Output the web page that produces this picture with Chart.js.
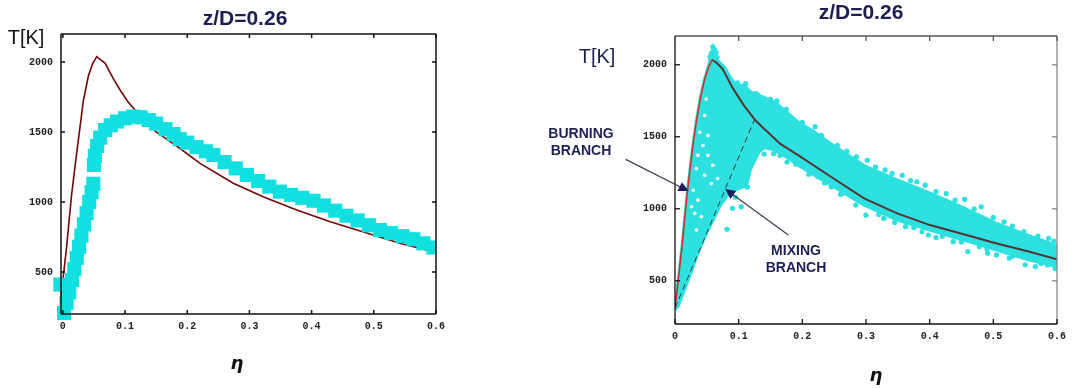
<!DOCTYPE html>
<html>
<head>
<meta charset="utf-8">
<script src="https://cdn.jsdelivr.net/npm/chart.js@4.4.1/dist/chart.umd.min.js"></script>
<style>
  body { margin: 0; background: #fff; }
  #wrap { position: relative; width: 1072px; height: 388px; overflow: hidden; }
  canvas { position: absolute; top: 0; }
  .t { position: absolute; transform: translate(-50%, -50%); white-space: nowrap; font-family: 'Liberation Sans', Arial, sans-serif; line-height: 1; }
  .title { font-weight: bold; font-size: 21px; color: #1e1e50; }
  .unit { font-size: 20px; }
  .eta { font-family: 'DejaVu Sans', sans-serif; font-weight: bold; font-style: italic; font-size: 18px; color: #111; }
  .note { font-weight: bold; font-size: 14px; color: #1c1f55; text-align: center; line-height: 16.5px; }
</style>
</head>
<body>
<div id="wrap">
  <canvas id="left" width="470" height="388" style="left:0"></canvas>
  <canvas id="right" width="602" height="388" style="left:470px"></canvas>
  <div class="t title" style="left:245px; top:17px">z/D=0.26</div>
  <div class="t title" style="left:861px; top:11px">z/D=0.26</div>
  <div class="t unit" style="left:26px; top:37px; color:#111">T[K]</div>
  <div class="t unit" style="left:597px; top:56px; color:#1c2050">T[K]</div>
  <div class="t eta" style="left:237px; top:363px">η</div>
  <div class="t eta" style="left:876px; top:375px">η</div>
  <div class="t note" style="left:581px; top:141px">BURNING<br>BRANCH</div>
  <div class="t note" style="left:796px; top:258px">MIXING<br>BRANCH</div>
</div>
<script>
// axis ticks
const xTicks = [0, 0.1, 0.2, 0.3, 0.4, 0.5, 0.6];
const yTicks = [500, 1000, 1500, 2000];

// left panel: computed band (squares) and flamelet curve, [eta, T]
const leftBand = [
  [-0.005, 200], [-0.005, 270], [-0.005, 340], [-0.004, 410],
  [0.002, 207], [0.006, 280], [0.0103, 355], [0.0148, 443], [0.0185, 520],
  [0.0223, 600], [0.0261, 680], [0.0298, 760], [0.034, 840], [0.0381, 920],
  [0.0423, 1000], [0.0462, 1070], [0.049, 1130],
  [0.05, 1265], [0.0515, 1330], [0.055, 1400], [0.06, 1460], [0.068, 1514],
  [0.077, 1548], [0.087, 1575], [0.1, 1598], [0.113, 1610], [0.125, 1605],
  [0.138, 1585], [0.15, 1560], [0.165, 1520], [0.178, 1485], [0.188, 1449],
  [0.2, 1424], [0.215, 1392], [0.23, 1362], [0.242, 1336], [0.26, 1285],
  [0.278, 1240], [0.296, 1193], [0.314, 1150], [0.332, 1110], [0.349, 1074],
  [0.367, 1050], [0.385, 1030], [0.403, 1009], [0.42, 975], [0.438, 938],
  [0.456, 902], [0.474, 868], [0.492, 834], [0.51, 800], [0.528, 778],
  [0.546, 756], [0.5635, 734], [0.58, 705], [0.596, 675]
];
const leftCurve = [
  [-0.003, 320], [0.006, 680], [0.014, 1050], [0.02, 1270], [0.027, 1515],
  [0.033, 1725], [0.041, 1900], [0.048, 1990], [0.0545, 2038], [0.068, 1991],
  [0.08, 1890], [0.092, 1800], [0.104, 1720], [0.116, 1657], [0.13, 1590],
  [0.15, 1500], [0.17, 1440], [0.188, 1384], [0.2206, 1276], [0.274, 1134],
  [0.322, 1038], [0.376, 943], [0.43, 859], [0.499, 764], [0.542, 705], [0.6, 640]
];

// right panel: scatter cloud outline, loose points, holes, branches
const cloudTop = [
  [0, 300], [0.006, 540], [0.0115, 760], [0.018, 1060], [0.024, 1290],
  [0.029, 1470], [0.034, 1625], [0.04, 1775], [0.046, 1895], [0.052, 1985],
  [0.056, 2050], [0.0594, 2110], [0.062, 2060], [0.067, 2030], [0.0775, 1985],
  [0.088, 1905], [0.0957, 1860], [0.1085, 1858], [0.119, 1810], [0.1395, 1775],
  [0.16, 1730], [0.181, 1650], [0.194, 1600], [0.217, 1540], [0.2455, 1450],
  [0.297, 1300], [0.349, 1200], [0.4, 1110], [0.452, 1010], [0.504, 900],
  [0.555, 815], [0.6, 745]
];
const cloudBottom = [
  [0, 300], [0.005, 323], [0.021, 507], [0.036, 692], [0.052, 853],
  [0.07, 1014], [0.085, 1110], [0.1, 1140], [0.112, 1160], [0.119, 1279],
  [0.132, 1394], [0.14, 1425], [0.155, 1410], [0.175, 1360], [0.194, 1300],
  [0.22, 1230], [0.2455, 1164], [0.297, 1026], [0.349, 922], [0.4, 853],
  [0.452, 784], [0.504, 715], [0.555, 645], [0.6, 599]
];
const cloudDots = [
  [0.0594, 2125], [0.062, 2105], [0.057, 2080], [0.0646, 2085], [0.055, 2055], [0.066, 2050],
  [0.098, 1875], [0.111, 1870], [0.127, 1800], [0.16, 1750], [0.22, 1570], [0.27, 1400],
  [0.302, 1337], [0.341, 1245], [0.357, 1233], [0.38, 1187], [0.393, 1164], [0.426, 1106],
  [0.455, 1065], [0.481, 1014], [0.517, 910], [0.548, 841], [0.587, 795],
  [0.13, 1790], [0.15, 1760], [0.175, 1690], [0.2, 1600], [0.23, 1510], [0.255, 1440],
  [0.285, 1360], [0.315, 1290], [0.33, 1270], [0.37, 1195], [0.41, 1120], [0.44, 1060],
  [0.47, 1000], [0.5, 940], [0.53, 880], [0.57, 810], [0.595, 775],
  [0.2145, 1256], [0.225, 1221], [0.2455, 1152], [0.265, 1110], [0.284, 1026], [0.3, 956],
  [0.328, 933], [0.362, 876], [0.388, 841], [0.398, 818], [0.41, 800], [0.437, 772],
  [0.46, 703], [0.478, 737], [0.491, 692], [0.505, 680], [0.525, 657], [0.55, 611],
  [0.566, 599], [0.585, 610],
  [0.21, 1240], [0.235, 1180], [0.26, 1100], [0.32, 960], [0.345, 905], [0.375, 870],
  [0.42, 810], [0.45, 770], [0.49, 720], [0.53, 670], [0.575, 620], [0.597, 585],
  [0.14, 1380], [0.155, 1383], [0.165, 1370], [0.176, 1325], [0.19, 1310],
  [0.0817, 858], [0.0904, 1003], [0.095, 1080], [0.104, 1014], [0.1137, 1152]
];
const cloudHoles = [
  [0.049, 1763], [0.0465, 1648], [0.0388, 1532], [0.0517, 1509], [0.044, 1440],
  [0.036, 1371], [0.0517, 1371], [0.0594, 1302], [0.0336, 1279], [0.0465, 1233],
  [0.067, 1210], [0.057, 1175], [0.0284, 1129], [0.036, 1060], [0.0259, 1014],
  [0.031, 968], [0.0414, 945], [0.0336, 853]
];
const burningBranch = [
  [0, 310], [0.006, 540], [0.0115, 760], [0.018, 1060], [0.024, 1290],
  [0.029, 1470], [0.034, 1620], [0.04, 1770], [0.046, 1890], [0.052, 1975], [0.058, 2035]
];
const flameletDecline = [
  [0.058, 2035], [0.065, 2015], [0.075, 1970], [0.09, 1843], [0.1085, 1717],
  [0.1266, 1613], [0.14, 1556], [0.165, 1452], [0.194, 1371], [0.2455, 1221],
  [0.297, 1072], [0.349, 968], [0.4005, 887], [0.452, 825], [0.504, 761],
  [0.5555, 703], [0.6, 650]
];
const mixingBranch = [[0, 310], [0.125, 1620]];

// annotation arrows [from, to] in data units
const burningArrow = [[-0.0775, 1343], [0.0186, 1129]];
const mixingArrow = [[0.178, 818], [0.0814, 1129]];

const pts = a => a.map(p => ({x: p[0], y: p[1]}));
const tickFont = {family: "'Liberation Mono', monospace", size: 10, weight: 'bold'};

const frame = {
  id: 'frame',
  afterDatasetsDraw(chart, args, o) {
    const {ctx, chartArea: a} = chart;
    const sx = chart.scales.x, sy = chart.scales.y;
    ctx.save();
    ctx.lineWidth = o.width;
    const seg = (c, x1, y1, x2, y2) => {
      ctx.strokeStyle = c;
      ctx.beginPath(); ctx.moveTo(x1, y1); ctx.lineTo(x2, y2); ctx.stroke();
    };
    seg(o.top, a.left, a.top, a.right, a.top);
    seg(o.right, a.right, a.top, a.right, a.bottom);
    seg(o.bottom, a.left, a.bottom, a.right, a.bottom);
    seg(o.left, a.left, a.top, a.left, a.bottom);
    xTicks.forEach(v => {
      const px = sx.getPixelForValue(v);
      seg(o.bottom, px, a.bottom, px, a.bottom - o.tick);
      seg(o.top, px, a.top, px, a.top + o.tick);
    });
    yTicks.forEach(v => {
      const py = sy.getPixelForValue(v);
      seg(o.left, a.left, py, a.left + o.tick, py);
      seg(o.right, a.right, py, a.right - o.tick, py);
    });
    ctx.restore();
  }
};

const arrows = {
  id: 'arrows',
  afterDraw(chart) {
    const {ctx} = chart;
    const sx = chart.scales.x, sy = chart.scales.y;
    [burningArrow, mixingArrow].forEach(([f, t]) => {
      const x1 = sx.getPixelForValue(f[0]), y1 = sy.getPixelForValue(f[1]);
      const x2 = sx.getPixelForValue(t[0]), y2 = sy.getPixelForValue(t[1]);
      const ang = Math.atan2(y2 - y1, x2 - x1);
      ctx.save();
      ctx.strokeStyle = '#3a3a48';
      ctx.lineWidth = 1.2;
      ctx.beginPath(); ctx.moveTo(x1, y1); ctx.lineTo(x2, y2); ctx.stroke();
      ctx.fillStyle = '#1a1d5c';
      ctx.translate(x2, y2);
      ctx.rotate(ang);
      ctx.beginPath(); ctx.moveTo(2, 0); ctx.lineTo(-8, -5); ctx.lineTo(-8, 5); ctx.closePath(); ctx.fill();
      ctx.restore();
    });
  }
};

function axes(xmin, yWidth, xHeight) {
  return {
    x: {
      type: 'linear', min: xmin, max: 0.6,
      afterBuildTicks: s => { s.ticks = xTicks.map(v => ({value: v})); },
      afterFit: s => { s.height = xHeight; },
      grid: {display: false, drawTicks: false},
      border: {display: false},
      ticks: {font: tickFont, color: '#222', padding: 6, autoSkip: false, maxRotation: 0,
        callback: v => String(v)}
    },
    y: {
      type: 'linear', min: 200, max: 2200,
      afterBuildTicks: s => { s.ticks = yTicks.map(v => ({value: v})); },
      afterFit: s => { s.width = yWidth; },
      grid: {display: false, drawTicks: false},
      border: {display: false},
      ticks: {font: tickFont, color: '#222', padding: 8, autoSkip: false,
        callback: v => String(v)}
    }
  };
}

new Chart(document.getElementById('left'), {
  type: 'line',
  data: {
    datasets: [
      {data: pts(leftBand), showLine: false, pointStyle: 'rect', pointRadius: 10,
        pointBackgroundColor: 'rgb(18,224,224)', pointBorderWidth: 0,
        clip: {left: 10, right: 0, top: 0, bottom: 8}},
      {data: pts(leftCurve), borderColor: 'rgb(112,8,8)', borderWidth: 1.6,
        pointRadius: 0, tension: 0, fill: false}
    ]
  },
  options: {
    responsive: false, animation: false,
    layout: {padding: {top: 34, right: 34, left: 0, bottom: 0}},
    plugins: {legend: {display: false}, tooltip: {enabled: false},
      frame: {width: 1.5, tick: 4, top: '#111', right: '#111', bottom: '#111', left: '#111'}},
    scales: axes(-0.003, 61, 74)
  },
  plugins: [frame]
});

const cyan = 'rgb(46,224,224)';
new Chart(document.getElementById('right'), {
  type: 'line',
  data: {
    datasets: [
      {data: pts(mixingBranch), borderColor: '#3c3c3c', borderWidth: 1, borderDash: [6, 4],
        pointRadius: 0, fill: false},
      {data: pts(burningBranch), borderColor: 'rgb(215,45,40)', borderWidth: 1.6,
        pointRadius: 0, tension: 0, fill: false},
      {data: pts(flameletDecline), borderColor: 'rgb(85,52,52)', borderWidth: 2,
        pointRadius: 0, tension: 0, fill: false},
      {data: pts(cloudHoles), showLine: false, pointRadius: 1.8, pointBackgroundColor: '#fff',
        pointBorderWidth: 0},
      {data: pts(cloudDots), showLine: false, pointRadius: 2.6, pointBackgroundColor: cyan,
        pointBorderWidth: 0},
      {data: pts(cloudTop), borderColor: cyan, borderWidth: 3, pointRadius: 0, tension: 0,
        fill: '+1', backgroundColor: cyan},
      {data: pts(cloudBottom), borderColor: cyan, borderWidth: 3, pointRadius: 0, tension: 0,
        fill: false}
    ]
  },
  options: {
    responsive: false, animation: false,
    layout: {padding: {top: 36, right: 10, left: 0, bottom: 0}},
    plugins: {legend: {display: false}, tooltip: {enabled: false},
      frame: {width: 1.3, tick: 5, top: '#555', right: '#888', bottom: '#111', left: '#111'}},
    scales: axes(0, 205, 64)
  },
  plugins: [frame, arrows]
});
</script>
</body>
</html>
